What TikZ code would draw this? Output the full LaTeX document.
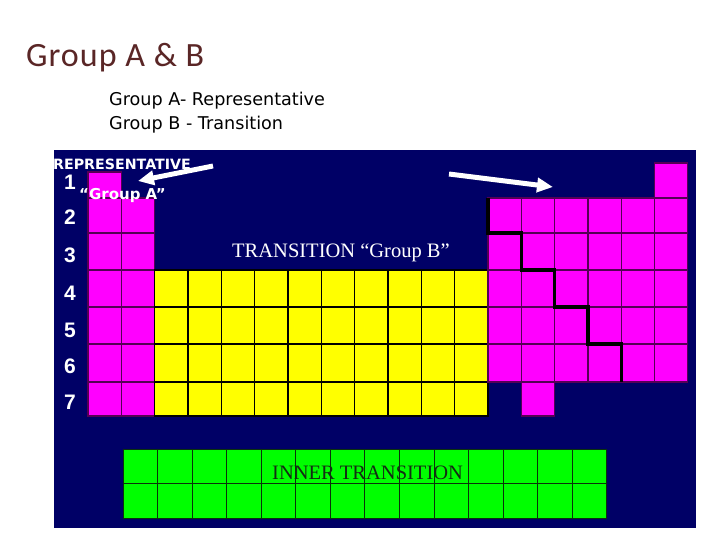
\documentclass[tikz,border=0pt]{standalone}
\usepackage{fontspec}
\setmainfont{Liberation Serif}
\newfontfamily\titlefont[LetterSpace=3]{Carlito}
\newfontfamily\dvs{DejaVu Sans}
\newfontfamily\lsans{Liberation Sans}
\usetikzlibrary{arrows.meta}
\definecolor{navy}{RGB}{0,0,102}
\definecolor{mag}{RGB}{255,0,255}
\definecolor{magline}{RGB}{85,0,85}
\definecolor{yel}{RGB}{255,255,0}
\definecolor{grn}{RGB}{0,255,0}
\definecolor{grnline}{RGB}{10,50,10}
\definecolor{titlecol}{RGB}{90,38,38}
\definecolor{innertext}{RGB}{20,45,20}
\tikzset{
  mcell/.style={fill=mag, draw=magline, line width=1.1pt},
  ycell/.style={fill=yel, draw=black, line width=1.3pt},
  gcell/.style={fill=grn, draw=grnline, line width=1pt},
  digit/.style={anchor=base, inner sep=0pt, text=white, font=\lsans\bfseries\fontsize{21}{25}\selectfont},
  warrow/.style={draw=white, line width=5pt, -{Triangle[length=16pt,width=14pt]}},
}
\begin{document}
\begin{tikzpicture}[x=1pt,y=-1pt]
\useasboundingbox[fill=white] (0,0) rectangle (720,540);
\fill[navy] (54,150) rectangle (696,528);

% main table cells
\begin{scope}[shift={(88pt,0pt)}, x=33.33pt]
  % group 1, period 1
  \path[mcell] (0,172) rectangle (1,198);
  \foreach \t/\b in {198/233,233/270,270/307,307/344,344/382,382/416} {
    \path[mcell] (0,\t) rectangle (1,\b);
    \path[mcell] (1,\t) rectangle (2,\b);
  }
  % transition block
  \foreach \t/\b in {270/307,307/344,344/382,382/416} {
    \foreach \c in {2,...,11} {
      \path[ycell] (\c,\t) rectangle (\c+1,\b);
    }
  }
  % groups 13-18
  \path[mcell] (17,163) rectangle (18,198);
  \foreach \t/\b in {198/233,233/270,270/307,307/344,344/382} {
    \foreach \c in {12,...,17} {
      \path[mcell] (\c,\t) rectangle (\c+1,\b);
    }
  }
  \path[mcell] (13,382) rectangle (14,416);
  % staircase
  \draw[black, line width=3.5pt, line join=miter]
    (12,198) -- (12,233) -- (13,233) -- (13,270) -- (14,270) -- (14,307)
    -- (15,307) -- (15,344) -- (16,344) -- (16,382);
\end{scope}

% inner transition block
\begin{scope}[shift={(123pt,0pt)}, x=34.57pt]
  \foreach \t/\b in {449/483,483/518} {
    \foreach \c in {0,...,13} {
      \path[gcell] (\c,\t) rectangle (\c+1,\b);
    }
  }
\end{scope}

% titles
\node[anchor=base west, inner sep=0pt, text=titlecol, font=\titlefont\fontsize{34}{40}\selectfont] (title) at (26,67) {Group A \& B};
\node[anchor=base west, inner sep=0pt, font=\dvs\fontsize{17.6}{21}\selectfont] (sub1) at (109,106) {Group A- Representative};
\node[anchor=base west, inner sep=0pt, font=\dvs\fontsize{17.6}{21}\selectfont] (sub2) at (109,130) {Group B - Transition};

% row numbers
\node[digit] (d1) at (70,190) {1};
\node[digit] (d2) at (70,225) {2};
\node[digit] (d3) at (70,262) {3};
\node[digit] (d4) at (70,300) {4};
\node[digit] (d5) at (70,337) {5};
\node[digit] (d6) at (70,373) {6};
\node[digit] (d7) at (70,409) {7};

% labels
\node[anchor=base east, inner sep=0pt, text=white, font=\dvs\bfseries\fontsize{14.2}{17}\selectfont] (rep) at (191,170) {REPRESENTATIVE};
\node[anchor=base west, inner sep=0pt, text=white, font=\dvs\bfseries\fontsize{15}{18}\selectfont] (grpA) at (79,200) {“Group A”};
\node[anchor=base west, inner sep=0pt, text=white, font=\fontsize{20.5}{24}\selectfont] (trans) at (232,257) {TRANSITION “Group B”};
\node[anchor=base west, inner sep=0pt, text=innertext, font=\fontsize{20.5}{24}\selectfont] (inner) at (272,479) {INNER TRANSITION};

% arrows
\coordinate (a1s) at (213,166);
\coordinate (a1e) at (138,181);
\draw[warrow] (a1s) -- (a1e);
\coordinate (a2s) at (449,174);
\coordinate (a2e) at (553,187);
\draw[warrow] (a2s) -- (a2e);
\end{tikzpicture}
\end{document}
